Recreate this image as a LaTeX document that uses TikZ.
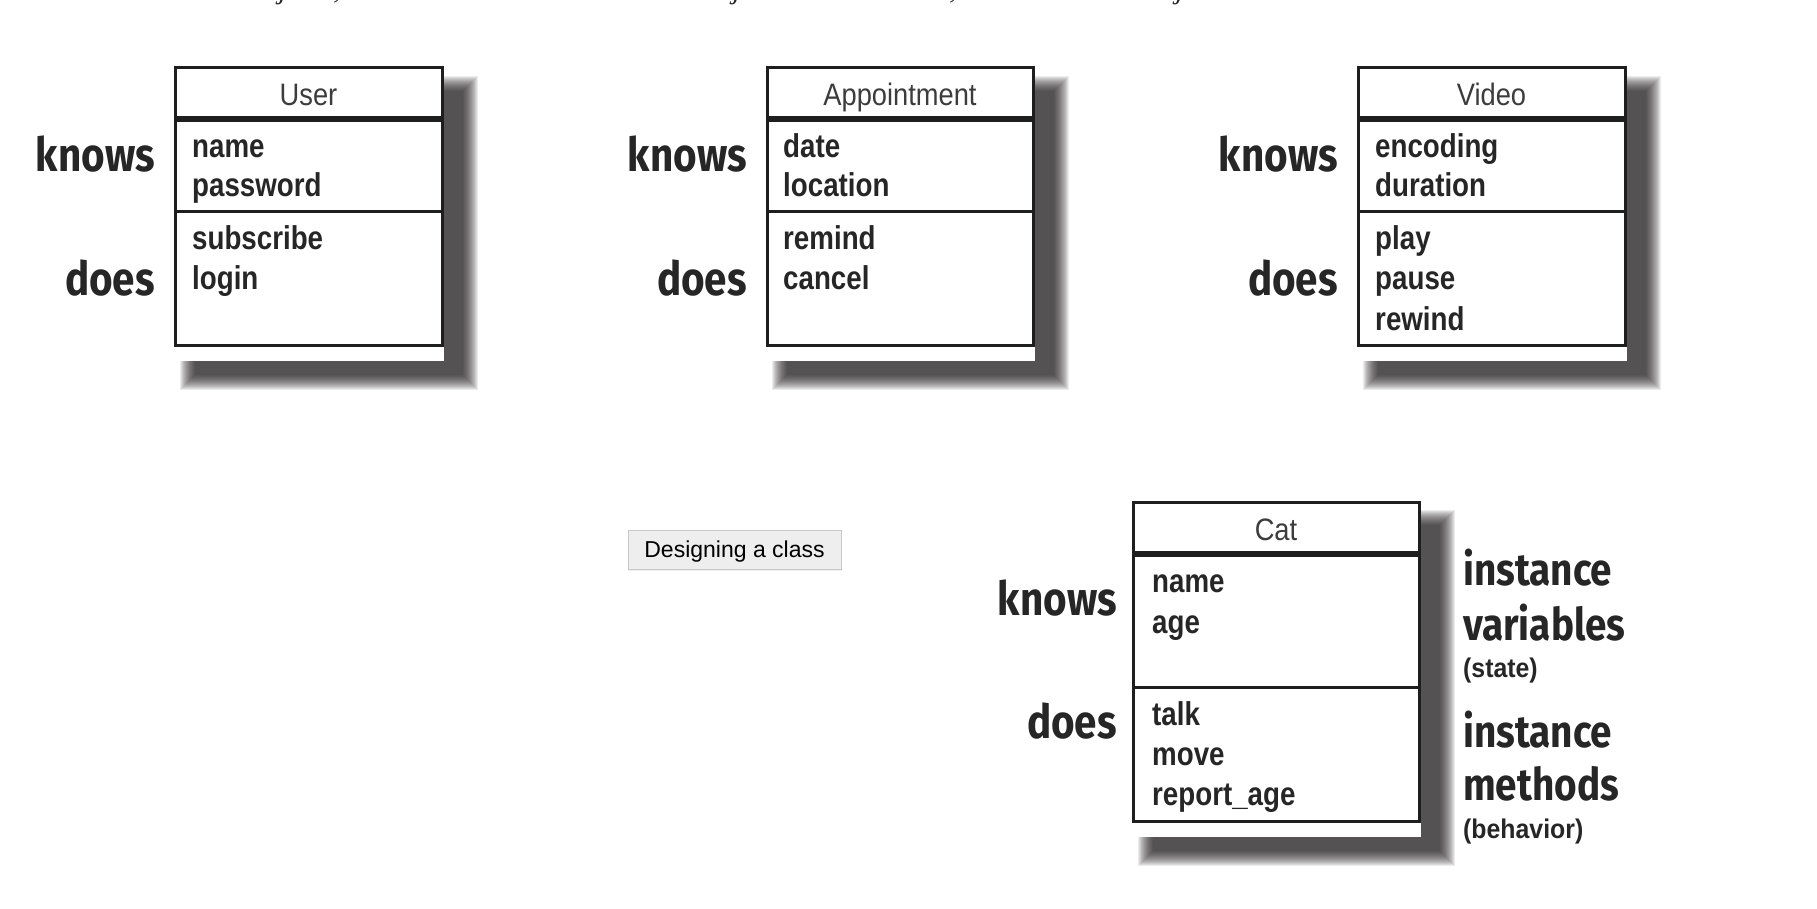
\documentclass[tikz,border=0pt]{standalone}
\usepackage{fontspec}
\setmainfont{Liberation Sans}
\newfontfamily\hdrfont[FakeStretch=0.88]{Liberation Sans}
\newfontfamily\fldfont[FakeStretch=0.84]{Liberation Sans Bold}
\newfontfamily\handfont[FakeStretch=0.86]{Fira Sans Bold}
\newfontfamily\notefont[FakeStretch=0.92]{Liberation Sans Bold}
\newfontfamily\fragfont{Liberation Serif Italic}
\definecolor{ink}{HTML}{262626}
\definecolor{boxink}{HTML}{1E1E1E}
\definecolor{shadowcol}{HTML}{201D1E}
\definecolor{btnfill}{HTML}{EEEEEE}
\definecolor{btnline}{HTML}{C8C8C8}
\tikzset{
  boxline/.style={draw=boxink, line width=3pt},
  hdr/.style={anchor=base, inner sep=0pt, text=ink!90!white, font=\hdrfont\fontsize{31}{31}\selectfont},
  field/.style={anchor=base west, inner sep=0pt, text=ink, font=\fldfont\fontsize{33}{33}\selectfont},
  hand/.style={anchor=base east, inner sep=0pt, text=ink, font=\handfont\fontsize{47}{47}\selectfont},
  handl/.style={anchor=base west, inner sep=0pt, text=ink, font=\handfont\fontsize{45}{45}\selectfont},
  note/.style={anchor=base west, inner sep=0pt, text=ink, font=\notefont\fontsize{27}{27}\selectfont},
  frag/.style={anchor=base, inner sep=0pt, text=ink, font=\fragfont\fontsize{30}{30}\selectfont},
  button/.style={draw=btnline, line width=1pt, fill=btnfill, minimum width=213pt, minimum height=39pt,
     inner sep=0pt, text height=18pt, text depth=3pt, font=\fontsize{23}{23}\selectfont, text=black},
}
% #1 id, #2 x1, #3 y1, #4 x2, #5 y2, #6 header line y, #7 separator y, #8 title
\newcommand\ClassBox[8]{%
  \foreach \k in {0,...,15}{%
    \fill[shadowcol, opacity=0.083] ({#2+5+\k},{#3+8+\k}) rectangle ({#4+36-\k},{#5+45-\k});
  }
  \fill[white] ({#2-1.5},#3) rectangle ({#4+1.5},{#5+16});
  \draw[boxline, fill=white] (#2,#3) rectangle (#4,#5);
  \draw[boxline, line width=6pt] (#2,#6) -- (#4,#6);
  \draw[boxline] (#2,#7) -- (#4,#7);
  \node[hdr] (#1-title) at ({(#2+#4)/2},{#3+38}) {#8};
}
\begin{document}
\begin{tikzpicture}[x=1pt, y=-1pt]
\useasboundingbox (0,0) rectangle (1817,909);
\fill[white] (0,0) rectangle (1817,909);

% cut-off text fragments at the top edge (as in the reference)
\begin{scope}
  \clip (0,0) rectangle (1817,909);
  \node[frag] (fr1) at (283,-1) {j};
  \node[frag] (fr2) at (337,-1) {,};
  \node[frag] (fr3) at (737,-1) {j};
  \node[frag] (fr4) at (953,-1) {,};
  \node[frag] (fr5) at (1180,-1) {j};
\end{scope}

% ---------- User ----------
\ClassBox{user}{175}{68}{442}{345}{119}{212}{User}
\node[hand] (user-knows) at (155,172) {knows};
\node[hand] (user-does)  at (155,295) {does};
\node[field] (user-f1) at (192,158) {name};
\node[field] (user-f2) at (192,197) {password};
\node[field] (user-f3) at (192,250) {subscribe};
\node[field] (user-f4) at (192,290) {login};

% ---------- Appointment ----------
\ClassBox{appt}{767}{68}{1033}{345}{119}{212}{Appointment}
\node[hand] (appt-knows) at (747,172) {knows};
\node[hand] (appt-does)  at (747,295) {does};
\node[field] (appt-f1) at (783,158) {date};
\node[field] (appt-f2) at (783,197) {location};
\node[field] (appt-f3) at (783,250) {remind};
\node[field] (appt-f4) at (783,290) {cancel};

% ---------- Video ----------
\ClassBox{video}{1358}{68}{1625}{345}{119}{212}{Video}
\node[hand] (video-knows) at (1338,172) {knows};
\node[hand] (video-does)  at (1338,295) {does};
\node[field] (video-f1) at (1375,158) {encoding};
\node[field] (video-f2) at (1375,197) {duration};
\node[field] (video-f3) at (1375,250) {play};
\node[field] (video-f4) at (1375,290) {pause};
\node[field] (video-f5) at (1375,330) {rewind};

% ---------- Cat ----------
\ClassBox{cat}{1133}{502}{1419}{821}{554}{687}{Cat}
\node[hand] (cat-knows) at (1117,615) {knows};
\node[hand] (cat-does)  at (1117,738) {does};
\node[field] (cat-f1) at (1152,592) {name};
\node[field] (cat-f2) at (1152,633) {age};
\node[field] (cat-f3) at (1152,725) {talk};
\node[field] (cat-f4) at (1152,765) {move};
\node[field] (cat-f5) at (1152,805) {report\_age};

\node[handl] (iv1) at (1463,585) {instance};
\node[handl] (iv2) at (1463,640) {variables};
\node[note]  (iv3) at (1463,677) {(state)};
\node[handl] (im1) at (1463,747) {instance};
\node[handl] (im2) at (1463,800) {methods};
\node[note]  (im3) at (1463,838) {(behavior)};

% ---------- button ----------
\fill[black, opacity=0.06] (628,531) rectangle (842,571);
\node[button] (btn) at (734.5,549.5) {Designing a class};
\end{tikzpicture}
\end{document}
